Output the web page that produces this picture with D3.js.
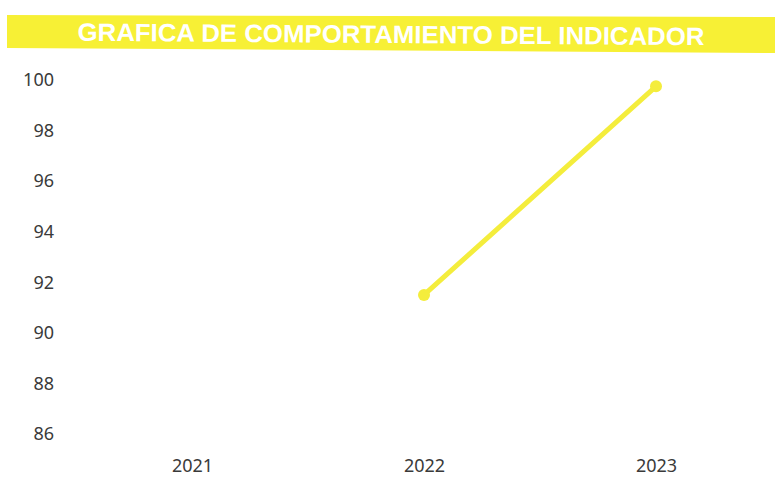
<!DOCTYPE html>
<html>
<head>
<meta charset="utf-8">
<script src="https://cdn.jsdelivr.net/npm/d3@7"></script>
<style>
  body { margin: 0; background: #fff; }
  svg { display: block; }
</style>
</head>
<body>
<script>
const years = ['2021', '2022', '2023'];
const values = [null, 91.5, 99.75];
const yTicks = [86, 88, 90, 92, 94, 96, 98, 100];
const title = 'GRAFICA DE COMPORTAMIENTO DEL INDICADOR';

const W = 775, H = 486;

const svg = d3.select('body').append('svg')
  .attr('width', W)
  .attr('height', H);

// banner
svg.append('polygon')
  .attr('points', '7,15 775,17 775,53 7,48')
  .style('fill', '#f7f035');

svg.append('text')
  .attr('x', 391)
  .attr('y', 43)
  .attr('text-anchor', 'middle')
  .attr('textLength', 627)
  .attr('lengthAdjust', 'spacingAndGlyphs')
  .attr('transform', 'rotate(0.4, 391, 36)')
  .style('font-family', 'Liberation Sans, Arial, sans-serif')
  .style('font-weight', 'bold')
  .style('font-size', '25px')
  .style('fill', '#ffffff')
  .text(title);

const x = d3.scalePoint()
  .domain(years)
  .range([192, 656]);

const y = d3.scaleLinear()
  .domain([86, 100])
  .range([434, 80]);

// y axis labels
const yAxis = svg.append('g')
  .attr('transform', 'translate(54,0)')
  .call(d3.axisLeft(y).tickValues(yTicks).tickSize(0).tickPadding(0));
yAxis.select('.domain').remove();
yAxis.selectAll('text')
  .style('font-family', 'Noto Sans, Open Sans, sans-serif')
  .style('font-size', '18px')
  .style('fill', '#3a3a3a');

// x axis labels
const xAxis = svg.append('g')
  .attr('transform', 'translate(0,459)')
  .call(d3.axisBottom(x).tickSize(0).tickPadding(0));
xAxis.select('.domain').remove();
xAxis.selectAll('text')
  .style('font-family', 'Noto Sans, Open Sans, sans-serif')
  .style('font-size', '18px')
  .style('fill', '#3a3a3a');

const pts = years.map((d, i) => ({ year: d, v: values[i] })).filter(d => d.v != null);

const line = d3.line()
  .x(d => x(d.year))
  .y(d => y(d.v));

svg.append('path')
  .datum(pts)
  .attr('d', line)
  .style('fill', 'none')
  .style('stroke', '#f4ed3c')
  .style('stroke-width', 5)
  .style('stroke-linecap', 'round');

svg.selectAll('circle.pt')
  .data(pts)
  .enter()
  .append('circle')
  .attr('class', 'pt')
  .attr('cx', d => x(d.year))
  .attr('cy', d => y(d.v))
  .attr('r', 6)
  .style('fill', '#f4ed3c');
</script>
</body>
</html>
